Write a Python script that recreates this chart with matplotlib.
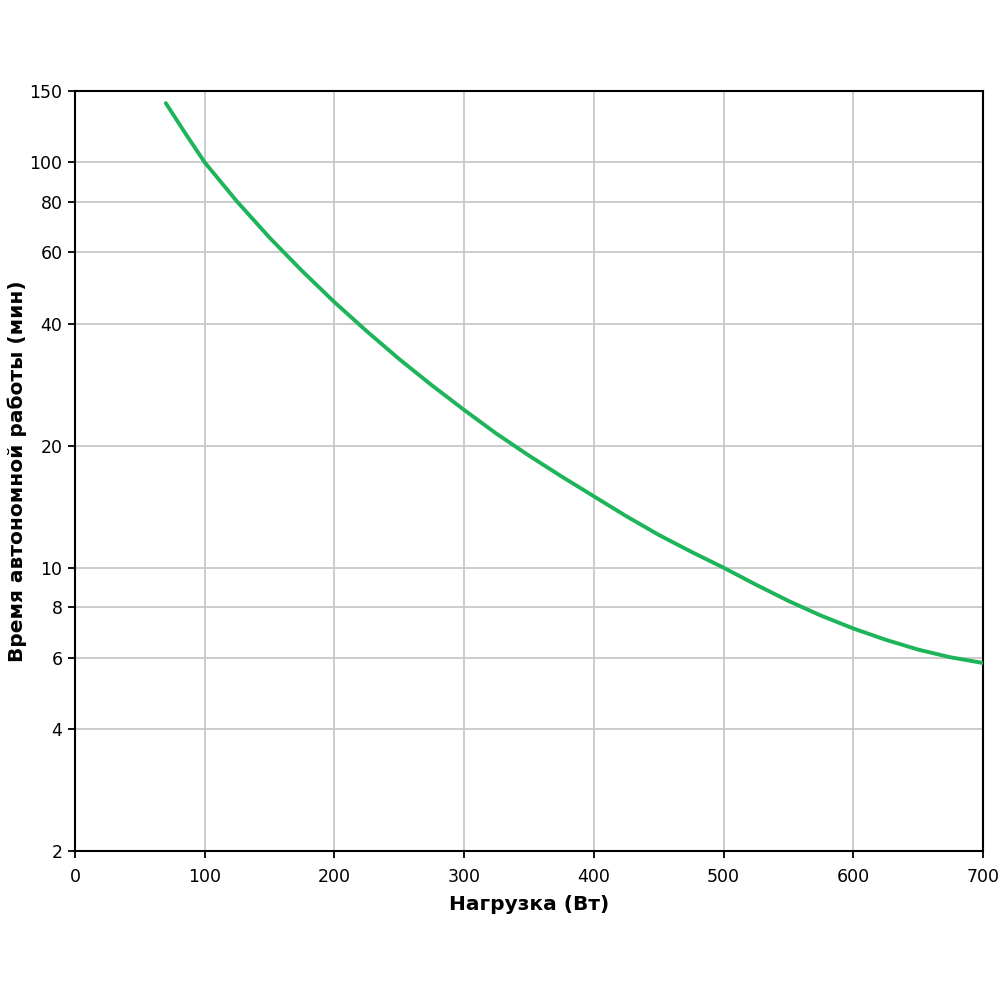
import matplotlib
matplotlib.use("Agg")
import matplotlib.pyplot as plt
from matplotlib.ticker import FixedLocator, NullLocator, FixedFormatter

# Data
load_w = [70, 85, 100, 125, 150, 175, 200, 225, 250, 275, 300, 325, 350, 375, 400,
          425, 450, 475, 500, 525, 550, 575, 600, 625, 650, 675, 700]
runtime_min = [140, 118, 100, 80.0, 65.2, 54.0, 45.2, 38.3, 32.7, 28.2, 24.5, 21.4, 18.9, 16.8, 15.0,
               13.4, 12.05, 10.95, 10.0, 9.08, 8.28, 7.62, 7.08, 6.64, 6.28, 6.01, 5.82]

x_ticks = [0, 100, 200, 300, 400, 500, 600, 700]
y_ticks = [2, 4, 6, 8, 10, 20, 40, 60, 80, 100, 150]

x_label = "Нагрузка (Вт)"
y_label = "Время автономной работы (мин)"

plt.rcParams['font.family'] = ['DejaVu Sans']

fig = plt.figure(figsize=(10, 10), dpi=100)
ax = fig.add_axes([0.075, 0.149, 0.908, 0.76])

ax.plot(load_w, runtime_min, color="#1db45a", linewidth=2.8, solid_capstyle='round',
        solid_joinstyle='round', zorder=3)

ax.set_yscale('log')
ax.set_xlim(0, 700)
ax.set_ylim(2, 150)
ax.xaxis.set_major_locator(FixedLocator(x_ticks))
ax.yaxis.set_major_locator(FixedLocator(y_ticks))
ax.yaxis.set_major_formatter(FixedFormatter([str(t) for t in y_ticks]))
ax.yaxis.set_minor_locator(NullLocator())

ax.grid(True, color="#c8c8c8", linewidth=1.3, zorder=0)
ax.set_axisbelow(True)
for s in ax.spines.values():
    s.set_color("#000000")
    s.set_linewidth(1.5)

ax.tick_params(axis='both', direction='out', length=5, width=1.3, labelsize=12.5, colors='#000000')
ax.tick_params(axis='x', pad=7)
ax.tick_params(axis='y', pad=4)

ax.set_xlabel(x_label, fontsize=14.5, fontweight='bold')
ax.set_ylabel(y_label, fontsize=14.5, fontweight='bold')
ax.xaxis.set_label_coords(0.5, -0.071)
ax.yaxis.set_label_coords(-0.064, 0.5)
ax.xaxis.label.set_verticalalignment('center')
ax.yaxis.label.set_verticalalignment('center')

fig.savefig("out.png", dpi=100, facecolor='white')
